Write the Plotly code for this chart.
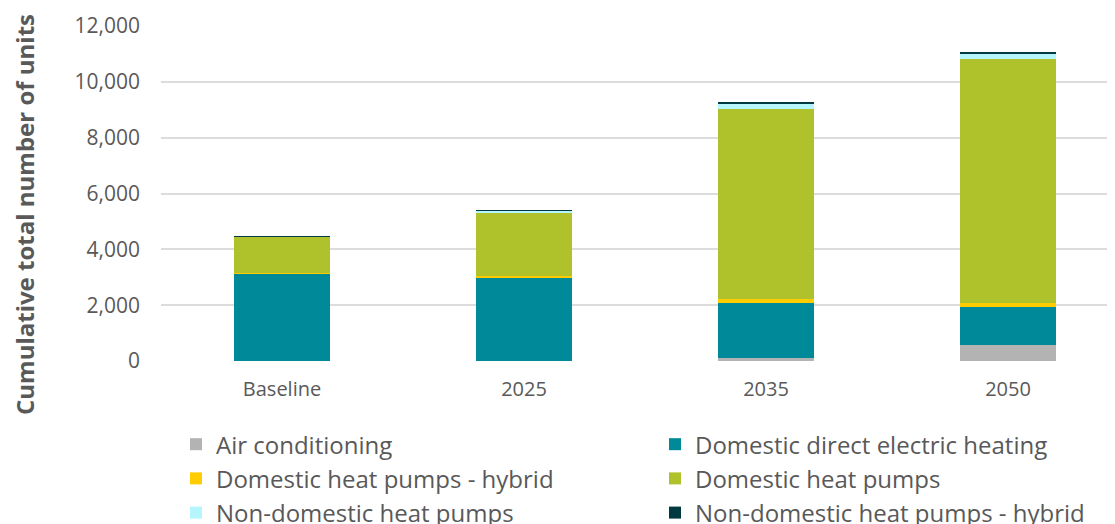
import plotly.graph_objects as go

categories = ["Baseline", "2025", "2035", "2050"]
air_conditioning = [0, 0, 100, 575]
domestic_direct_electric = [3150, 2975, 1990, 1370]
domestic_hp_hybrid = [10, 60, 140, 145]
domestic_hp = [1290, 2260, 6795, 8730]
nondomestic_hp = [20, 100, 215, 180]
nondomestic_hp_hybrid = [5, 10, 50, 70]

series = [
    ("Air conditioning", air_conditioning, "#b3b3b3", "legend"),
    ("Domestic direct electric heating", domestic_direct_electric, "#008a99", "legend2"),
    ("Domestic heat pumps - hybrid", domestic_hp_hybrid, "#ffcc00", "legend"),
    ("Domestic heat pumps", domestic_hp, "#afc22b", "legend2"),
    ("Non-domestic heat pumps", nondomestic_hp, "#b5f6fc", "legend"),
    ("Non-domestic heat pumps - hybrid", nondomestic_hp_hybrid, "#003a40", "legend2"),
]

fig = go.Figure()
for name, vals, col, leg in series:
    fig.add_trace(go.Bar(x=categories, y=vals, name=name, marker_color=col,
                         marker_line_width=0, width=0.4, legend=leg))

FONT = "Open Sans"
TXT = "#595959"
legend_common = dict(orientation="v", xref="container", yref="container",
                     y=0.1975, xanchor="left", yanchor="top",
                     font=dict(size=24, color=TXT, family=FONT),
                     traceorder="normal", bgcolor="rgba(0,0,0,0)")

fig.update_layout(
    width=1107, height=516,
    barmode="stack",
    paper_bgcolor="white", plot_bgcolor="white",
    margin=dict(l=153, r=0, t=18, b=163, autoexpand=False),
    font=dict(family=FONT, color=TXT),
    xaxis=dict(range=[-0.5, 3.442], showgrid=False, showline=False, ticks="",
               tickfont=dict(size=20, color=TXT), automargin=False,
               ticklabelstandoff=14),
    yaxis=dict(range=[0, 12000], dtick=2000, tickformat=",", showline=False,
               gridcolor="#dcdcdc", gridwidth=2, zeroline=False, automargin=False,
               tickfont=dict(size=21, color=TXT), ticklabelstandoff=20),
    legend=dict(x=168 / 1107, **legend_common),
    legend2=dict(x=647 / 1107, **legend_common),
    showlegend=True,
    annotations=[dict(text="<b>Cumulative total number of units</b>",
                      xref="paper", yref="paper",
                      x=(17 - 153) / 954, y=(353 - 207) / 335,
                      xanchor="center", yanchor="middle", textangle=-90,
                      showarrow=False, font=dict(size=24, color=TXT, family=FONT))],
)

fig.write_html("out.html")
